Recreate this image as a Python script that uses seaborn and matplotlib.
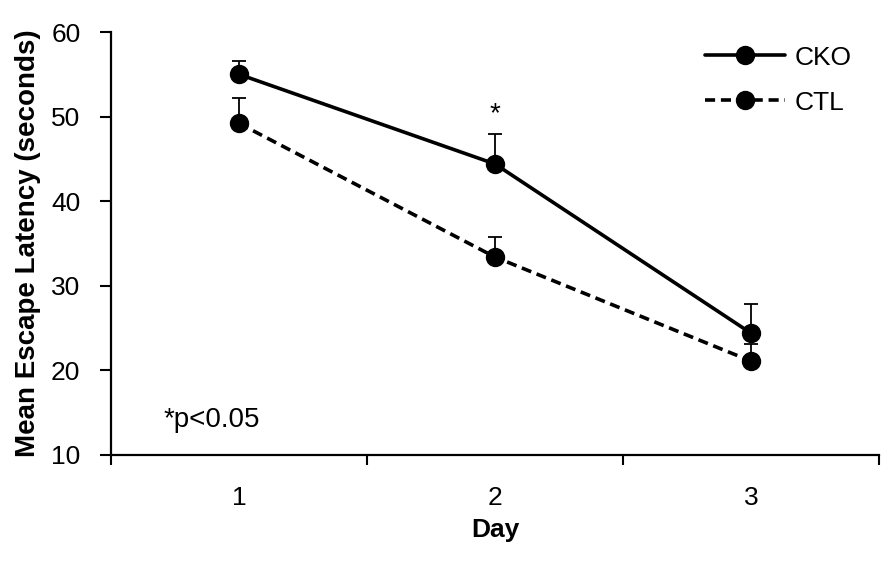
import pandas as pd
import seaborn as sns
import matplotlib.pyplot as plt

# values
days = ['1', '2', '3']
cko_mean = [55.0, 44.4, 24.4]
cko_err = [1.6, 3.6, 3.5]
ctl_mean = [49.2, 33.4, 21.1]
ctl_err = [3.0, 2.4, 2.0]
groups = ['CKO', 'CTL']

data = pd.DataFrame({
    'Day': days * 2,
    'latency': cko_mean + ctl_mean,
    'group': ['CKO'] * 3 + ['CTL'] * 3,
})

sns.set_style('ticks')
plt.rcParams['font.family'] = ['Liberation Sans', 'DejaVu Sans']
plt.rcParams['text.color'] = 'black'
plt.rcParams['axes.labelcolor'] = 'black'
plt.rcParams['xtick.color'] = 'black'
plt.rcParams['ytick.color'] = 'black'

fig, ax = plt.subplots(figsize=(8.86, 5.61), dpi=100)
fig.subplots_adjust(left=111 / 886, right=879 / 886, top=1 - 32 / 561, bottom=1 - 455 / 561)

# upper error bars only
pos = range(len(days))
ax.errorbar(pos, cko_mean, yerr=[[0] * 3, cko_err], fmt='none', ecolor='black',
            elinewidth=1.3, capsize=5, capthick=1.3, zorder=2)
ax.errorbar(pos, ctl_mean, yerr=[[0] * 3, ctl_err], fmt='none', ecolor='black',
            elinewidth=1.3, capsize=5, capthick=1.3, zorder=2)

sns.pointplot(data=data, x='Day', y='latency', hue='group', hue_order=groups,
              palette=['black', 'black'], markers='o', linestyles=['-', '--'],
              errorbar=None, markersize=12, linewidth=2.6, legend=False, ax=ax)

lines = [l for l in ax.lines if l.get_marker() == 'o']
for l in lines:
    l.set_zorder(3)
lines[1].set_dashes((2.8, 1.6))

ax.legend(lines[:2], groups, loc='upper right', frameon=False, fontsize=19,
          handlelength=3.0, handletextpad=0.4, labelspacing=0.8, borderaxespad=0,
          borderpad=0, bbox_to_anchor=(0.965, 0.968))

ax.set_ylim(10, 60)
ax.set_yticks([10, 20, 30, 40, 50, 60])
ax.set_xlim(-0.5, 2.5)
ax.set_xticks([-0.5, 0.5, 1.5, 2.5])
ax.set_xticklabels([])
ax.set_xticks([0, 1, 2], minor=True)
ax.set_xticklabels(days, minor=True)
ax.tick_params(axis='x', which='major', length=7, width=1.5, direction='out')
ax.tick_params(axis='x', which='minor', length=0, pad=22, labelsize=19)
ax.tick_params(axis='y', length=8, width=1.5, pad=14, labelsize=19)

for side in ['top', 'right']:
    ax.spines[side].set_visible(False)
for side in ['left', 'bottom']:
    ax.spines[side].set_linewidth(1.6)
    ax.spines[side].set_color('black')

ax.set_xlabel('Day', fontsize=19, fontweight='bold', labelpad=6)
ax.set_ylabel('Mean Escape Latency (seconds)', fontsize=20, fontweight='bold', labelpad=7)

ax.text(1, 48.8, '*', ha='center', va='bottom', fontsize=20)
ax.text(0.068, 0.083, '*p<0.05', transform=ax.transAxes, ha='left', va='center', fontsize=20)

plt.savefig('out.png', dpi=100)
